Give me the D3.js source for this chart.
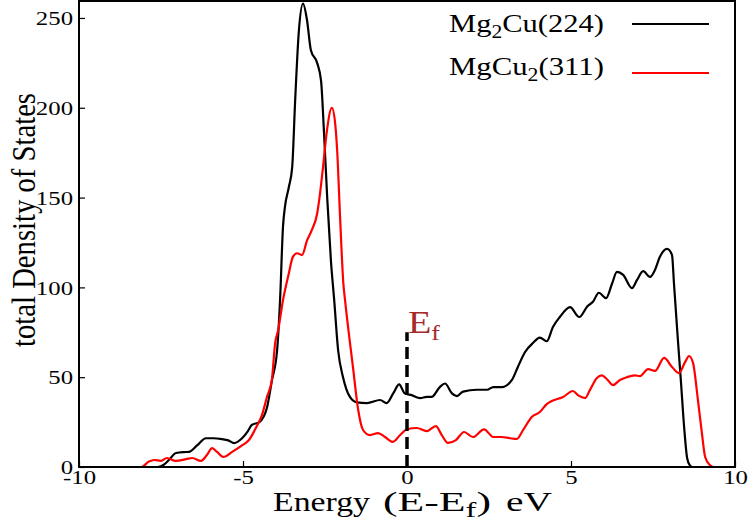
<!DOCTYPE html>
<html>
<head>
<meta charset="utf-8">
<script src="https://cdn.jsdelivr.net/npm/d3@7"></script>
<style>
  body { margin: 0; background: #fff; }
  svg { display: block; }
  text { font-family: "Liberation Serif", "Times New Roman", serif; }
</style>
</head>
<body>
<svg id="chart" width="752" height="525"></svg>
<script>
// Mg2Cu(224) total DOS
const blackE = [-10, -7.6, -7.4, -7.26, -7.04, -6.8, -6.65, -6.4, -6.13, -5.9, -5.64, -5.45, -5.27, -5.03, -4.85, -4.73, -4.5, -4.27, -4.12, -3.96, -3.87, -3.78, -3.72, -3.6, -3.5, -3.41, -3.3, -3.17, -3.05, -2.93, -2.74, -2.62, -2.53, -2.43, -2.32, -2.22, -2.1, -1.95, -1.74, -1.53, -1.22, -0.82, -0.62, -0.42, -0.24, -0.07, 0.14, 0.4, 0.6, 0.75, 1.0, 1.16, 1.37, 1.52, 1.71, 2.13, 2.44, 2.63, 2.89, 3.2, 3.38, 3.6, 3.84, 4.05, 4.26, 4.45, 4.66, 4.97, 5.25, 5.5, 5.67, 5.85, 6.07, 6.25, 6.4, 6.59, 6.86, 7.01, 7.2, 7.41, 7.56, 7.71, 7.93, 8.08, 8.14, 8.25, 8.35, 8.45, 8.54, 8.62, 8.7, 10];
const blackDos = [0, 0, 1.5, 3.9, 7.8, 8.3, 8.4, 12, 16, 16, 15.5, 14.8, 13.3, 16, 20, 23.4, 25, 33, 48, 65, 93, 134, 145, 156, 167, 204, 242, 258, 249, 232, 225, 215, 186, 149, 115, 93, 65, 50, 39, 36, 35.6, 37.3, 35.6, 41, 46, 41, 40, 38.4, 39, 39, 44.5, 46.5, 41, 39.5, 42, 43, 43, 44.5, 44.5, 48.5, 55.7, 64, 69, 72, 70, 78, 83.5, 89, 83.5, 89.5, 92, 97, 94, 102, 108.6, 107, 99.6, 104, 109, 105.8, 109.7, 117, 121.4, 118, 102, 73, 48, 22, 5, 1, 0, 0];

// MgCu2(311) total DOS
const redE = [-10, -8.1, -7.87, -7.71, -7.5, -7.32, -7.05, -6.73, -6.55, -6.28, -6.1, -5.94, -5.79, -5.6, -5.33, -5.03, -4.82, -4.6, -4.42, -4.27, -4.12, -4.02, -3.93, -3.78, -3.6, -3.48, -3.35, -3.2, -3.05, -2.9, -2.74, -2.65, -2.56, -2.45, -2.29, -2.2, -2.13, -2.04, -1.94, -1.89, -1.65, -1.49, -1.34, -1.13, -0.88, -0.67, -0.43, -0.21, 0, 0.3, 0.6, 0.88, 1.06, 1.25, 1.49, 1.74, 2.01, 2.35, 2.63, 2.89, 3.14, 3.35, 3.54, 3.81, 4.05, 4.26, 4.45, 4.76, 5.06, 5.21, 5.43, 5.58, 5.79, 5.94, 6.09, 6.28, 6.49, 6.7, 6.95, 7.1, 7.35, 7.56, 7.84, 8.08, 8.29, 8.48, 8.6, 8.72, 8.87, 8.99, 9.09, 9.24, 9.35, 10];
const redDos = [0, 0, 3, 3.9, 3.4, 5, 3.4, 4.4, 5, 3.4, 6.7, 10.5, 8.4, 5.6, 8.4, 12, 15, 22, 29, 39, 48.5, 69, 76, 93, 108, 117, 119, 118, 126, 132, 141, 152.5, 167, 186, 200, 193, 176.5, 139, 102, 93, 56, 32, 20.6, 17.8, 18.9, 16.7, 14, 17.8, 21, 21.7, 20, 22.8, 17.8, 13.4, 15, 19.5, 16.7, 21, 16.7, 16.7, 16, 15.6, 20.6, 28, 30.6, 35, 37, 39, 42.3, 40, 38.4, 43, 49.5, 51, 49, 45.6, 48.4, 50, 51, 50.6, 54.5, 53.5, 60.7, 55.7, 52.3, 58.5, 61.8, 58, 37.3, 19, 5.6, 1, 0, 0];

const xTicks = [-10, -5, 0, 5, 10];
const yTicks = [0, 50, 100, 150, 200, 250];
const seriesColors = ["#000000", "#ff0000"];
// legend labels as [text, isSubscript] pieces
const legendLabels = [
  [["Mg", 0], ["2", 1], ["Cu(224)", 0]],
  [["MgCu", 0], ["2", 1], ["(311)", 0]]
];
const fermiEnergy = 0;
const fermiTop = 75;

const svg = d3.select("#chart");
const plotLeft = 79, plotRight = 735, plotTop = 0, plotBottom = 467;

const x = d3.scaleLinear().domain([-10, 10]).range([plotLeft, plotRight]);
const y = d3.scaleLinear().domain([0, 260]).range([plotBottom, plotTop]);

// widen text like the stretched original
function stretch(sel, k) {
  sel.each(function () {
    const w = this.getComputedTextLength();
    d3.select(this).attr("textLength", w * k).attr("lengthAdjust", "spacingAndGlyphs");
  });
}

// axes (plain hyphen for the minus, as in the original)
const xAxis = svg.append("g")
  .attr("transform", `translate(0,${plotBottom})`)
  .call(d3.axisBottom(x).tickValues(xTicks).tickSize(-6).tickFormat(d => String(d)));
xAxis.select(".domain").remove();
xAxis.selectAll(".tick line").attr("stroke-width", 1.2);
xAxis.selectAll("text")
  .attr("y", 17).attr("dy", 0)
  .attr("fill", "#000")
  .style("font-size", "19.5px")
  .style("font-family", "'Liberation Serif', serif")
  .call(stretch, 1.27);

const yAxis = svg.append("g")
  .attr("transform", `translate(${plotLeft},0)`)
  .call(d3.axisLeft(y).tickValues(yTicks).tickSize(-6).tickFormat(d => String(d)));
yAxis.select(".domain").remove();
yAxis.selectAll(".tick line").attr("stroke-width", 1.2);
yAxis.selectAll("text")
  .attr("x", -6).attr("dy", "0.34em")
  .attr("fill", "#000")
  .style("font-size", "19.5px")
  .style("font-family", "'Liberation Serif', serif")
  .call(stretch, 1.27);

// curves
const line = d3.line().x(d => x(d[0])).y(d => y(d[1])).curve(d3.curveMonotoneX);
const series = [d3.zip(blackE, blackDos), d3.zip(redE, redDos)];

svg.append("defs").append("clipPath").attr("id", "plotclip")
  .append("rect").attr("x", plotLeft).attr("y", plotTop)
  .attr("width", plotRight - plotLeft).attr("height", plotBottom - plotTop);

svg.append("g").attr("clip-path", "url(#plotclip)")
  .selectAll("path")
  .data(series)
  .join("path")
  .attr("d", line)
  .attr("fill", "none")
  .attr("stroke", (d, i) => seriesColors[i])
  .attr("stroke-width", 2.2)
  .attr("stroke-linejoin", "round");

// Fermi level marker
svg.append("line")
  .attr("x1", x(fermiEnergy)).attr("x2", x(fermiEnergy))
  .attr("y1", y(0)).attr("y2", y(fermiTop))
  .attr("stroke", "#000")
  .attr("stroke-width", 3.5)
  .attr("stroke-dasharray", "12,6");

const ef = svg.append("text")
  .attr("x", x(fermiEnergy) + 1)
  .attr("y", 333)
  .attr("fill", "#a52a2a")
  .style("font-size", "31px");
ef.append("tspan").text("E");
ef.append("tspan").attr("dy", 7).style("font-size", "21px").text("f");
ef.attr("textLength", 32).attr("lengthAdjust", "spacingAndGlyphs");

// frame
svg.append("rect")
  .attr("x", plotLeft).attr("y", 1)
  .attr("width", plotRight - plotLeft).attr("height", plotBottom - 1)
  .attr("fill", "none")
  .attr("stroke", "#000")
  .attr("stroke-width", 2);

// legend
const legend = svg.append("g");
legendLabels.forEach((parts, i) => {
  const ty = [32, 75][i];
  const t = legend.append("text")
    .attr("x", 449).attr("y", ty)
    .attr("fill", "#000")
    .style("font-size", "25.5px");
  let shifted = 0;
  parts.forEach(([s, sub]) => {
    const dy = sub ? 6 : -shifted;
    shifted = sub ? 6 : 0;
    t.append("tspan")
      .attr("dy", dy)
      .style("font-size", sub ? "18px" : "25.5px")
      .text(s);
  });
  t.attr("textLength", 155).attr("lengthAdjust", "spacingAndGlyphs");
  legend.append("line")
    .attr("x1", 632).attr("x2", 709)
    .attr("y1", [24, 73][i]).attr("y2", [24, 73][i])
    .attr("stroke", seriesColors[i])
    .attr("stroke-width", 2);
});

// x title, in three runs to follow the original's spacing
const titleFont = "27px";
svg.append("text")
  .attr("x", 273).attr("y", 511)
  .style("font-size", titleFont)
  .attr("textLength", 97).attr("lengthAdjust", "spacingAndGlyphs")
  .text("Energy");
const mid = svg.append("text")
  .attr("x", 383).attr("y", 511)
  .style("font-size", titleFont);
mid.append("tspan").text("(E-E");
mid.append("tspan").attr("dy", 6).style("font-size", "20px").text("f");
mid.append("tspan").attr("dy", -6).text(")");
mid.attr("textLength", 108).attr("lengthAdjust", "spacingAndGlyphs");
svg.append("text")
  .attr("x", 506).attr("y", 511)
  .style("font-size", titleFont)
  .attr("textLength", 46).attr("lengthAdjust", "spacingAndGlyphs")
  .text("eV");

svg.append("text")
  .attr("transform", "translate(35,220) scale(1.2,1) rotate(-90)")
  .attr("text-anchor", "middle")
  .attr("fill", "#000")
  .style("font-size", "28px")
  .attr("textLength", 254)
  .attr("lengthAdjust", "spacingAndGlyphs")
  .text("total Density of States");
</script>
</body>
</html>
